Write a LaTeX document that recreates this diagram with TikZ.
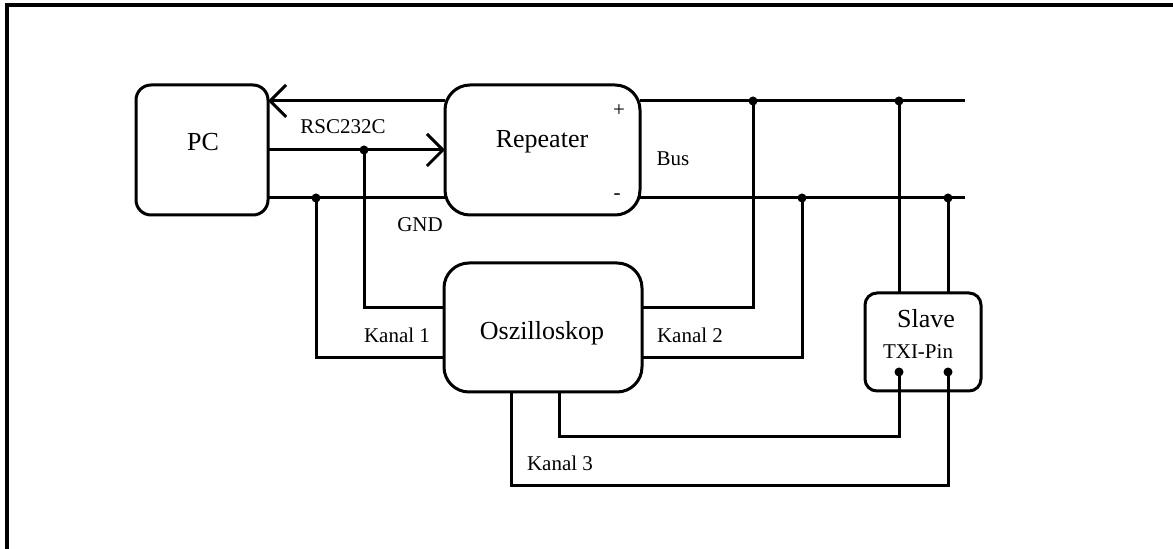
\documentclass[tikz,border=0pt]{standalone}
\usepackage{fontspec}
\setmainfont{Liberation Serif}
\usetikzlibrary{arrows.meta}
\tikzset{
  wire/.style={line width=1.5pt, line cap=butt, line join=miter},
  arr/.style={wire, -{Straight Barb[length=8pt,width=16pt,line width=1.5pt]}},
  blockbox/.style={draw, line width=1.5pt, inner sep=0pt, outer sep=0pt},
  big/.style={font=\fontsize{13}{15}\selectfont, inner sep=0pt},
  small/.style={font=\fontsize{10.5}{12}\selectfont, inner sep=0pt},
  dot/.style={circle, fill=black, inner sep=0pt, minimum size=4.5pt}
}
\begin{document}
\begin{tikzpicture}[x=0.5pt,y=-0.5pt]
\useasboundingbox (0,0) rectangle (1173,549);
% frame
\draw[line width=1.8pt] (7,549) -- (7,5) -- (1173,5);

% boxes
\node[blockbox, rounded corners=7.5pt, minimum width=66pt, minimum height=65pt] (pc) at (202,150) {};
\node[blockbox, rounded corners=12.5pt, minimum width=97.5pt, minimum height=65pt] (rep) at (542.5,150) {};
\node[blockbox, rounded corners=12.5pt, minimum width=99pt, minimum height=64.5pt] (osz) at (543,327.5) {};
\node[blockbox, rounded corners=6pt, minimum width=58pt, minimum height=49pt] (slave) at (923,342) {};

% box texts
\node[big] (pct) at (203,142) {PC};
\node[big] (rept) at (542,142) {Repeater};
\node[big] (oszt) at (542,333) {Oszilloskop};
\node[big] (slavet) at (926,319) {Slave};
\node[small] (txit) at (918,352) {TXI-Pin};

% coordinates
\coordinate (yA) at (0,101);
\coordinate (yB) at (0,150);
\coordinate (yC) at (0,198);
\coordinate (yK1) at (0,308);
\coordinate (yK2) at (0,358);
\coordinate (endA) at (965,101);
\coordinate (endC) at (965,198);

% dots
\node[dot] (d1) at (364,150) {};
\node[dot] (d2) at (316,198) {};
\node[dot] (d3) at (753,101) {};
\node[dot] (d4) at (802,198) {};
\node[dot] (d5) at (899,101) {};
\node[dot] (d6) at (948,198) {};
\node[dot] (p1) at (899,372) {};
\node[dot] (p2) at (948,372) {};

% RS232 lines
\draw[arr] (rep.west |- yA) -- (pc.east |- yA);
\draw[arr] (pc.east |- yB) -- (rep.west |- yB);
\draw[wire] (pc.east |- yC) -- (rep.west |- yC);

% bus lines
\draw[wire] (rep.east |- yA) -- (endA);
\draw[wire] (rep.east |- yC) -- (endC);

% Kanal 1
\draw[wire] (d1.center) -- (d1.center |- yK1) -- (osz.west |- yK1);
\draw[wire] (d2.center) -- (d2.center |- yK2) -- (osz.west |- yK2);
% Kanal 2
\draw[wire] (d3.center) -- (d3.center |- yK1) -- (osz.east |- yK1);
\draw[wire] (d4.center) -- (d4.center |- yK2) -- (osz.east |- yK2);
% Slave supply
\draw[wire] (d5.center) -- (d5.center |- slave.north);
\draw[wire] (d6.center) -- (d6.center |- slave.north);
% Kanal 3
\coordinate (b1) at (559,437);
\coordinate (b2) at (511,486);
\draw[wire] (osz.south -| b1) -- (b1) -- (p1.center |- b1) -- (p1.center);
\draw[wire] (osz.south -| b2) -- (b2) -- (p2.center |- b2) -- (p2.center);

% labels
\node[small] (rs) at (343,127) {RSC232C};
\node[small] (gnd) at (420,225) {GND};
\node[small] (bus) at (673,159) {Bus};
\node[small] (plus) at (619,111) {+};
\node[small] (minus) at (617,197) {-};
\node[small] (k1) at (397,335) {Kanal 1};
\node[small] (k2) at (690,335) {Kanal 2};
\node[small] (k3) at (560,463) {Kanal 3};
\end{tikzpicture}
\end{document}
